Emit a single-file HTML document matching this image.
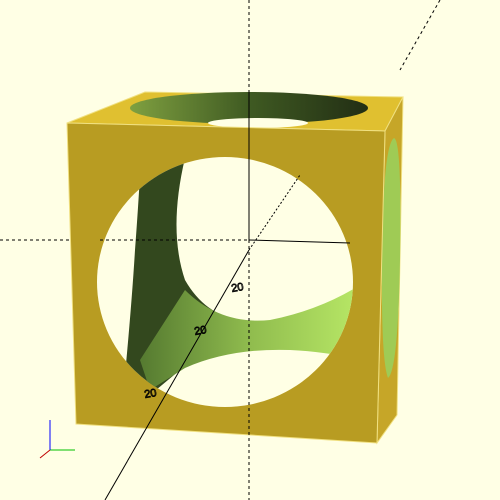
<!DOCTYPE html>
<html><head><meta charset="utf-8"><style>html,body{margin:0;padding:0;background:#FFFFE5}</style></head>
<body>
<svg width="500" height="500" viewBox="0 0 500 500" xmlns="http://www.w3.org/2000/svg" style="display:block;font-family:'Liberation Sans',sans-serif">
<defs>
<clipPath id="hole"><ellipse cx="225" cy="282" rx="128" ry="125"/></clipPath>
<linearGradient id="topg" x1="0" x2="1"><stop offset="0" stop-color="#7FA040"/><stop offset="0.5" stop-color="#3F5A22"/><stop offset="1" stop-color="#222E14"/></linearGradient>
<linearGradient id="botg" x1="0" x2="1"><stop offset="0" stop-color="#557A30"/><stop offset="0.5" stop-color="#90BC4E"/><stop offset="1" stop-color="#B8E866"/></linearGradient>
</defs>
<rect width="500" height="500" fill="#FFFFE5"/>
<g stroke="#000" stroke-width="1" fill="none">
<line x1="249" y1="0" x2="249" y2="90" stroke-dasharray="3,3"/>
<line x1="0" y1="240" x2="100" y2="240" stroke-dasharray="3,3"/>
<line x1="440" y1="0" x2="400" y2="70" stroke-dasharray="3,3"/>
</g>
<g>
<path d="M67,123 L145,92 L403,97 L385,131 Z" fill="#E0C030" stroke="#F0E080" stroke-width="1"/>
<ellipse cx="249" cy="108" rx="119" ry="16" fill="url(#topg)"/>
<ellipse cx="258" cy="123" rx="50" ry="5" fill="#FFFFE5"/>
<path d="M385,131 L403,97 L397,415 L377,443 Z" fill="#C6A628" stroke="#F0E080" stroke-width="1"/>
<path d="M394,138 Q402,140 400,260 Q398,370 388,378 Q381,360 382,260 Q383,145 394,138 Z" fill="#9FCB55"/>
<path d="M67,123 L385,131 L377,443 L76,424 Z" fill="#B89C22" stroke="#F0E080" stroke-width="1"/>
<ellipse cx="225" cy="282" rx="128" ry="125" fill="#FFFFE5"/>
<g clip-path="url(#hole)">
<path d="M140,175 L185,158 Q168,230 185,280 Q205,315 240,320 L150,395 L125,375 Q132,300 135,250 Q138,210 140,175 Z" fill="#33481E"/>
<path d="M185,290 Q220,325 270,320 Q320,310 360,285 L360,360 Q330,352 290,350 Q230,348 185,368 L150,390 L140,360 Z" fill="url(#botg)"/>
</g>
</g>
<g stroke="#000" stroke-width="1" fill="none">
<line x1="249" y1="240" x2="350" y2="243"/>
<line x1="249" y1="90" x2="249" y2="240"/>
<line x1="249" y1="240" x2="249" y2="500" stroke-dasharray="3,3"/>
<line x1="100" y1="240" x2="249" y2="240" stroke-dasharray="3,3"/>
<line x1="249" y1="250" x2="105" y2="500"/>
<line x1="249" y1="250" x2="300" y2="175" stroke-dasharray="2,2"/>
</g>
<g font-size="11" fill="none" stroke="#000" stroke-width="0.8">
<text x="232" y="292" transform="rotate(-10 232 292)">20</text>
<text x="195" y="335" transform="rotate(-10 195 335)">20</text>
<text x="145" y="398" transform="rotate(-10 145 398)">20</text>
</g>
<g stroke-width="1">
<line x1="50" y1="450" x2="75" y2="450" stroke="#00C000"/>
<line x1="50" y1="450" x2="50" y2="420" stroke="#0000FF"/>
<line x1="50" y1="450" x2="40" y2="458" stroke="#C00000"/>
</g>
</svg>
</body></html>
